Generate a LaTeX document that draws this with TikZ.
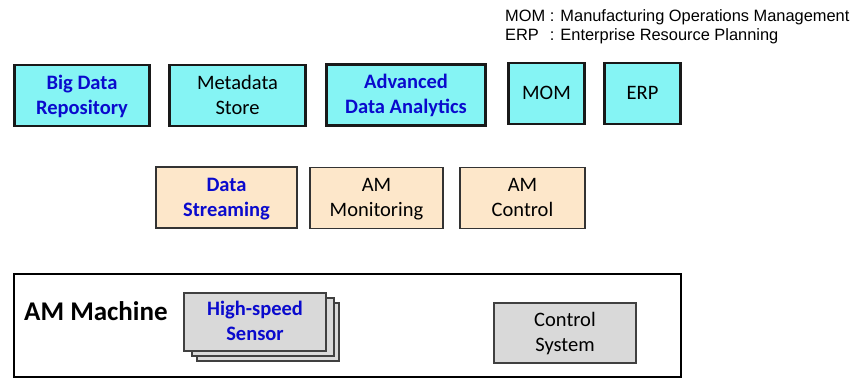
\documentclass[tikz,border=0pt]{standalone}
\usepackage{fontspec}
\setmainfont{Carlito}
\newfontfamily\legendfont{Liberation Sans}

\definecolor{cyanfill}{RGB}{133,244,244}
\definecolor{peachfill}{RGB}{253,231,202}
\definecolor{greyfill}{RGB}{217,217,217}
\definecolor{hiblue}{RGB}{10,10,205}

% box caption: invisible rules fix the height of the first line and the depth of the last
\newcommand\topstrut{\rule{0pt}{20.5pt}}
\newcommand\botstrut{\rule[-7.5pt]{0pt}{7.5pt}}
\newcommand\boxcap[2]{\topstrut#1\\#2\botstrut}
\newcommand\boxcapone[1]{\topstrut#1\botstrut}

\tikzset{
  boxtext/.style={align=center, inner sep=0pt, font=\fontsize{20.5}{25}\selectfont},
  topbox/.style={boxtext, draw=black!90, line width=2.6pt, fill=cyanfill, minimum height=61pt},
  midbox/.style={boxtext, draw=black!80, line width=1.6pt, fill=peachfill, minimum height=61pt},
  greybox/.style={boxtext, draw=black!75, line width=1.4pt, fill=greyfill, minimum width=142pt, minimum height=58pt},
  keyword/.style={text=hiblue, font=\fontsize{20.5}{25}\selectfont\bfseries},
}

\begin{document}
\begin{tikzpicture}[x=1pt, y=-1pt]
\useasboundingbox (0,0) rectangle (854,379);

% abbreviation legend
\node[anchor=base west, inner sep=0pt, font=\legendfont\fontsize{16.4}{19}\selectfont] (legend) at (505,22)
  {\begin{tabular}[t]{@{}l@{\ }l@{}}MOM & : Manufacturing Operations Management\\ ERP & : Enterprise Resource Planning\end{tabular}};

% enterprise level
\node[topbox, keyword, minimum width=135pt] (bigdata) at (82,95.5) {\boxcap{Big Data}{Repository}};
\node[topbox, minimum width=136pt] (meta) at (237.5,95.5) {\boxcap{Metadata}{Store}};
\node[topbox, keyword, minimum width=159pt] (adv) at (406,95) {\boxcap{Advanced}{Data Analytics}};
\node[topbox, minimum width=76pt] (mom) at (546.5,93.5) {\boxcapone{MOM}};
\node[topbox, minimum width=76pt] (erp) at (642.5,93.5) {\boxcapone{ERP}};

% edge level
\node[midbox, keyword, minimum width=141pt] (stream) at (226.5,197.5) {\boxcap{Data}{Streaming}};
\node[midbox, minimum width=133pt] (monit) at (376.5,198) {\boxcap{AM}{Monitoring}};
\node[midbox, minimum width=125pt] (amctl) at (522.5,198) {\boxcap{AM}{Control}};

% machine level
\node[draw=black, line width=1.8pt, fill=white, minimum width=667pt, minimum height=103pt, inner sep=0pt] (machine) at (347.5,325.5) {};
\node[anchor=base west, inner sep=0pt, font=\fontsize{27}{30}\selectfont\bfseries] (machinelabel) at (24,320) {AM Machine};

\node[greybox] (sensor3) at (268,332) {};
\node[greybox] (sensor2) at (263,327) {};
\node[greybox, keyword] (sensor) at (255,322) {\boxcap{High-speed}{Sensor}};

\node[greybox, minimum height=60pt] (ctrlsys) at (565,333) {\boxcap{Control}{System}};
\end{tikzpicture}
\end{document}
